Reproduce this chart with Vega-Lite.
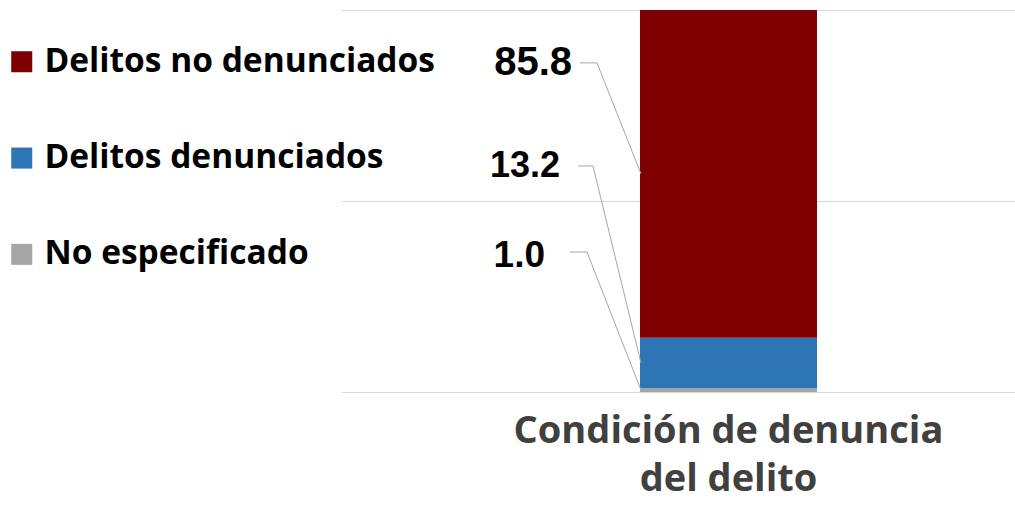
{
  "$schema": "https://vega.github.io/schema/vega-lite/v6.json",
  "width": 674,
  "height": 382,
  "autosize": {"type": "none"},
  "padding": {"left": 341, "top": 10, "right": 0, "bottom": 114},
  "background": "#ffffff",
  "config": {
    "view": {"stroke": null},
    "axisY": {"grid": true, "gridColor": "#d9d9d9", "gridWidth": 1.2, "labels": false, "ticks": false, "domain": false, "tickCount": 2, "title": null},
    "axisX": {
      "domain": false, "ticks": false, "tickSize": 0, "grid": false,
      "labelAngle": 0, "labelPadding": 20, "labelBaseline": "top",
      "labelFont": "Open Sans", "labelFontWeight": "bold", "labelFontSize": 38,
      "labelColor": "#404040", "labelLineHeight": 48, "labelLimit": 0,
      "labelExpr": "['Condición de denuncia', 'del delito']"
    }
  },
  "data": {
    "values": [
      {"cat": "Condición de denuncia del delito", "serie": "No especificado", "valor": 1.0, "orden": 1},
      {"cat": "Condición de denuncia del delito", "serie": "Delitos denunciados", "valor": 13.2, "orden": 2},
      {"cat": "Condición de denuncia del delito", "serie": "Delitos no denunciados", "valor": 85.8, "orden": 3}
    ]
  },
  "layer": [
    {
      "mark": {"type": "bar"},
      "encoding": {
        "x": {
          "field": "cat", "type": "nominal", "title": null,
          "scale": {"type": "band", "paddingInner": 0.2877, "paddingOuter": 1, "align": 0.6016}
        },
        "y": {
          "field": "valor", "type": "quantitative", "stack": "zero", "title": null,
          "scale": {"domain": [0, 100], "nice": false}
        },
        "color": {
          "field": "serie", "type": "nominal",
          "scale": {
            "domain": ["Delitos no denunciados", "Delitos denunciados", "No especificado"],
            "range": ["#7f0000", "#2e75b6", "#a5a5a5"]
          },
          "legend": {
            "orient": "none", "legendX": -336, "legendY": 35, "title": null,
            "symbolType": "square", "symbolSize": 441, "symbolStrokeWidth": 0,
            "labelFont": "Open Sans", "labelFontWeight": "bold", "labelFontSize": 33.5,
            "labelColor": "#000000", "rowPadding": 61.3, "labelOffset": 6, "labelLimit": 0
          }
        },
        "order": {"field": "orden", "type": "quantitative"}
      }
    },
    {
      "transform": [
        {"stack": "valor", "groupby": ["cat"], "sort": [{"field": "orden", "order": "ascending"}], "as": ["v0", "v1"]},
        {"fold": ["v0", "v1"], "as": ["k", "borde"]},
        {"aggregate": [{"op": "mean", "field": "borde", "as": "medio"}], "groupby": ["cat", "serie", "valor"]}
      ],
      "layer": [
        {
          "transform": [{"filter": "datum.serie === 'Delitos no denunciados'"}],
          "layer": [
            {
              "mark": {"type": "rule", "color": "#a6a6a6", "strokeWidth": 1, "xOffset": 1, "x2Offset": -43, "y2Offset": -111},
              "encoding": {
                "x": {"field": "cat", "type": "nominal", "bandPosition": 0, "title": null},
                "x2": {"field": "cat", "bandPosition": 0},
                "y": {"field": "medio", "type": "quantitative", "title": null},
                "y2": {"field": "medio"}
              }
            },
            {
              "mark": {"type": "rule", "color": "#a6a6a6", "strokeWidth": 1, "xOffset": -43, "x2Offset": -60, "yOffset": -111, "y2Offset": -111},
              "encoding": {
                "x": {"field": "cat", "type": "nominal", "bandPosition": 0, "title": null},
                "x2": {"field": "cat", "bandPosition": 0},
                "y": {"field": "medio", "type": "quantitative", "title": null},
                "y2": {"field": "medio"}
              }
            },
            {
              "mark": {"type": "text", "align": "right", "baseline": "middle", "dx": -68, "dy": -111, "font": "Liberation Sans", "fontWeight": "bold", "fontSize": 40, "color": "#000000"},
              "encoding": {
                "x": {"field": "cat", "type": "nominal", "bandPosition": 0, "title": null},
                "y": {"field": "medio", "type": "quantitative", "title": null},
                "text": {"field": "valor", "type": "quantitative", "format": ".1f"}
              }
            }
          ]
        },
        {
          "transform": [{"filter": "datum.serie === 'Delitos denunciados'"}],
          "layer": [
            {
              "mark": {"type": "rule", "color": "#a6a6a6", "strokeWidth": 1, "xOffset": 1, "x2Offset": -47, "y2Offset": -197},
              "encoding": {
                "x": {"field": "cat", "type": "nominal", "bandPosition": 0, "title": null},
                "x2": {"field": "cat", "bandPosition": 0},
                "y": {"field": "medio", "type": "quantitative", "title": null},
                "y2": {"field": "medio"}
              }
            },
            {
              "mark": {"type": "rule", "color": "#a6a6a6", "strokeWidth": 1, "xOffset": -47, "x2Offset": -62, "yOffset": -197, "y2Offset": -197},
              "encoding": {
                "x": {"field": "cat", "type": "nominal", "bandPosition": 0, "title": null},
                "x2": {"field": "cat", "bandPosition": 0},
                "y": {"field": "medio", "type": "quantitative", "title": null},
                "y2": {"field": "medio"}
              }
            },
            {
              "mark": {"type": "text", "align": "right", "baseline": "middle", "dx": -80, "dy": -197, "font": "Liberation Sans", "fontWeight": "bold", "fontSize": 36, "color": "#000000"},
              "encoding": {
                "x": {"field": "cat", "type": "nominal", "bandPosition": 0, "title": null},
                "y": {"field": "medio", "type": "quantitative", "title": null},
                "text": {"field": "valor", "type": "quantitative", "format": ".1f"}
              }
            }
          ]
        },
        {
          "transform": [{"filter": "datum.serie === 'No especificado'"}],
          "layer": [
            {
              "mark": {"type": "rule", "color": "#a6a6a6", "strokeWidth": 1, "xOffset": 1, "x2Offset": -53, "y2Offset": -138},
              "encoding": {
                "x": {"field": "cat", "type": "nominal", "bandPosition": 0, "title": null},
                "x2": {"field": "cat", "bandPosition": 0},
                "y": {"field": "medio", "type": "quantitative", "title": null},
                "y2": {"field": "medio"}
              }
            },
            {
              "mark": {"type": "rule", "color": "#a6a6a6", "strokeWidth": 1, "xOffset": -53, "x2Offset": -70, "yOffset": -138, "y2Offset": -138},
              "encoding": {
                "x": {"field": "cat", "type": "nominal", "bandPosition": 0, "title": null},
                "x2": {"field": "cat", "bandPosition": 0},
                "y": {"field": "medio", "type": "quantitative", "title": null},
                "y2": {"field": "medio"}
              }
            },
            {
              "mark": {"type": "text", "align": "right", "baseline": "middle", "dx": -95, "dy": -134, "font": "Liberation Sans", "fontWeight": "bold", "fontSize": 37, "color": "#000000"},
              "encoding": {
                "x": {"field": "cat", "type": "nominal", "bandPosition": 0, "title": null},
                "y": {"field": "medio", "type": "quantitative", "title": null},
                "text": {"field": "valor", "type": "quantitative", "format": ".1f"}
              }
            }
          ]
        }
      ]
    }
  ]
}
